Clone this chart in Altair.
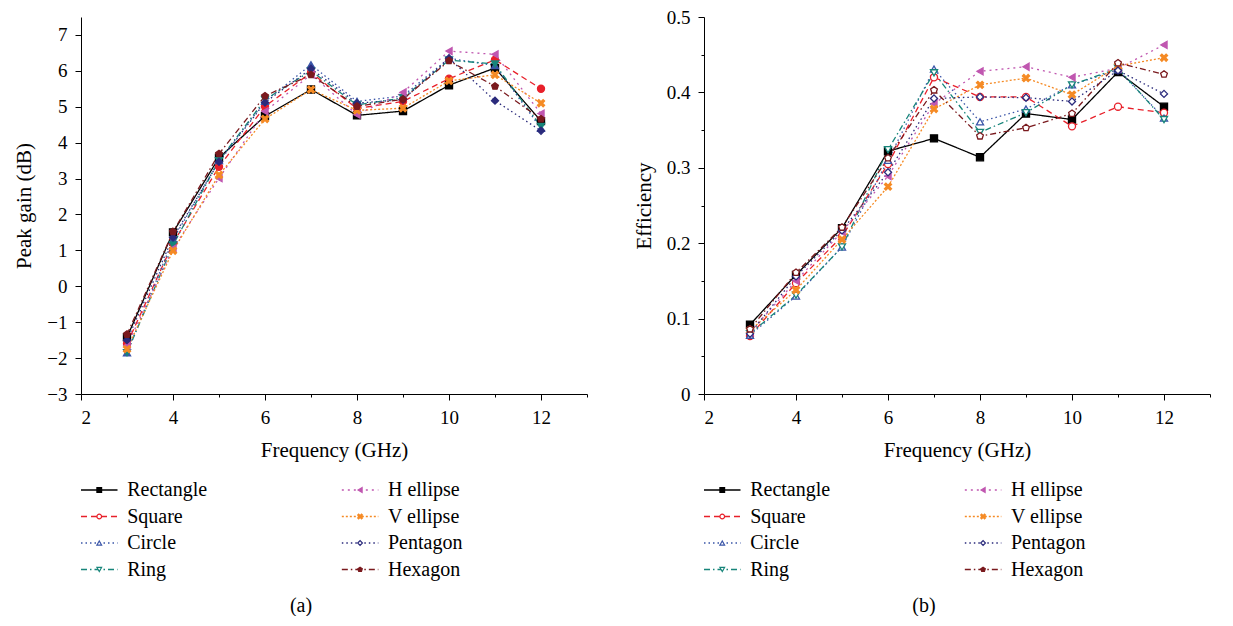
import pandas as pd
import altair as alt

# Datos
frecuencias = [3, 4, 5, 6, 7, 8, 9, 10, 11, 12]
series = ["Rectangle", "Square", "Circle", "Ring", "H ellipse", "V ellipse", "Pentagon", "Hexagon"]

# (a) Peak gain (dB)
gain_rectangle = [-1.42, 1.50, 3.58, 4.74, 5.48, 4.76, 4.88, 5.60, 6.08, 4.60]
gain_square = [-1.60, 1.20, 3.33, 5.01, 5.95, 4.95, 5.15, 5.78, 6.31, 5.50]
gain_circle = [-1.85, 1.30, 3.50, 5.15, 6.17, 5.15, 5.30, 6.35, 6.15, 4.40]
gain_ring = [-1.85, 1.15, 3.50, 5.20, 6.00, 5.05, 5.25, 6.30, 6.19, 4.45]
gain_h_ellipse = [-1.65, 1.05, 3.01, 4.87, 5.90, 4.78, 5.40, 6.55, 6.46, 4.81]
gain_v_ellipse = [-1.75, 0.99, 3.10, 4.66, 5.48, 4.90, 4.96, 5.72, 5.89, 5.10]
gain_pentagon = [-1.50, 1.36, 3.47, 5.12, 6.06, 5.10, 5.20, 6.35, 5.17, 4.33]
gain_hexagon = [-1.34, 1.52, 3.69, 5.30, 5.89, 5.01, 5.21, 6.28, 5.57, 4.66]

# (b) Efficiency
eff_rectangle = [0.092, 0.158, 0.220, 0.322, 0.339, 0.314, 0.372, 0.364, 0.427, 0.381]
eff_square = [0.077, 0.147, 0.209, 0.305, 0.420, 0.394, 0.394, 0.355, 0.381, 0.373]
eff_circle = [0.078, 0.130, 0.195, 0.310, 0.431, 0.361, 0.378, 0.410, 0.430, 0.366]
eff_ring = [0.080, 0.131, 0.195, 0.324, 0.426, 0.347, 0.373, 0.410, 0.432, 0.364]
eff_h_ellipse = [0.082, 0.150, 0.215, 0.289, 0.385, 0.428, 0.434, 0.420, 0.432, 0.463]
eff_v_ellipse = [0.084, 0.138, 0.205, 0.275, 0.378, 0.410, 0.419, 0.397, 0.435, 0.446]
eff_pentagon = [0.080, 0.156, 0.217, 0.294, 0.392, 0.394, 0.393, 0.388, 0.429, 0.398]
eff_hexagon = [0.086, 0.161, 0.221, 0.313, 0.403, 0.342, 0.353, 0.372, 0.439, 0.424]

gain = [gain_rectangle, gain_square, gain_circle, gain_ring,
        gain_h_ellipse, gain_v_ellipse, gain_pentagon, gain_hexagon]
eff = [eff_rectangle, eff_square, eff_circle, eff_ring,
       eff_h_ellipse, eff_v_ellipse, eff_pentagon, eff_hexagon]

# Estilos de cada serie
colores = ["#000000", "#e8202a", "#3a55a8", "#17857a", "#c057b0", "#f58a24", "#2b2b7c", "#7a1a1e"]
trazos = [[1, 0], [6, 4], [1.5, 3], [6, 3, 1.5, 3], [2, 4], [2, 2], [1.5, 3], [6, 3, 1.5, 3]]
forma_x = "M-1,-0.6L-0.4,0L-1,0.6L-0.6,1L0,0.4L0.6,1L1,0.6L0.4,0L1,-0.6L0.6,-1L0,-0.4L-0.6,-1Z"
forma_pent = "M0,-1L0.951,-0.309L0.588,0.809L-0.588,0.809L-0.951,-0.309Z"
formas = ["square", "circle", "triangle-up", "triangle-down", "triangle-left", forma_x, "diamond", forma_pent]
huecos_b = ["Square", "Circle", "Ring", "Pentagon", "Hexagon"]
huecos_leyenda = ["Square", "Circle", "Ring", "Pentagon"]

escala_color = alt.Scale(domain=series, range=colores)
escala_trazo = alt.Scale(domain=series, range=trazos)
escala_forma = alt.Scale(domain=series, range=formas)

FUENTE = "Liberation Serif"


def tabla(valores, huecos):
    filas = []
    for nombre, vals in zip(series, valores):
        color = colores[series.index(nombre)]
        for f, v in zip(frecuencias, vals):
            filas.append({"serie": nombre, "freq": f, "valor": v,
                          "relleno": "white" if nombre in huecos else color})
    return pd.DataFrame(filas)


def grafico(valores, huecos, titulo_y, dominio_y, ticks_y, prueba_y, formato_y):
    df = tabla(valores, huecos)
    x = alt.X("freq:Q", title="Frequency (GHz)",
              scale=alt.Scale(domain=[2, 13], nice=False, zero=False),
              axis=alt.Axis(values=list(range(2, 14)),
                            labelExpr="datum.value % 2 === 0 && datum.value <= 12 ? datum.label : ''",
                            tickSize={"condition": {"test": "datum.value % 2 === 0", "value": 6}, "value": 3}))
    y = alt.Y("valor:Q", title=titulo_y,
              scale=alt.Scale(domain=dominio_y, nice=False, zero=False),
              axis=alt.Axis(values=ticks_y, format=formato_y,
                            labelExpr=f"{prueba_y} ? datum.label : ''",
                            tickSize={"condition": {"test": prueba_y, "value": 6}, "value": 3}))
    lineas = alt.Chart(df).mark_line(strokeWidth=1.3).encode(
        x=x, y=y,
        color=alt.Color("serie:N", scale=escala_color, legend=None),
        strokeDash=alt.StrokeDash("serie:N", scale=escala_trazo, legend=None)
    )
    puntos = alt.Chart(df).mark_point(size=50, opacity=1, strokeWidth=1.3).encode(
        x=x, y=y,
        shape=alt.Shape("serie:N", scale=escala_forma, legend=None),
        stroke=alt.Stroke("serie:N", scale=escala_color, legend=None),
        fill=alt.Fill("relleno:N", scale=None)
    )
    return alt.layer(lineas, puntos).properties(width=506, height=377)


def leyenda(letra):
    df = pd.DataFrame({
        "serie": series,
        "col": [i // 4 for i in range(len(series))],
        "fila": [i % 4 for i in range(len(series))],
        "relleno": ["white" if s in huecos_leyenda else colores[i] for i, s in enumerate(series)],
    })
    base = alt.Chart(df).transform_calculate(
        x1="datum.col + 0.14", xm="datum.col + 0.07", xt="datum.col + 0.177"
    )
    ex = alt.Scale(domain=[0, 1.94], nice=False, zero=False)
    ey = alt.Scale(domain=[-0.5, 3.5], reverse=True, nice=False, zero=False)
    reglas = base.mark_rule(strokeWidth=1.3).encode(
        x=alt.X("col:Q", scale=ex, axis=None), x2="x1:Q",
        y=alt.Y("fila:Q", scale=ey, axis=None),
        color=alt.Color("serie:N", scale=escala_color, legend=None),
        strokeDash=alt.StrokeDash("serie:N", scale=escala_trazo, legend=None)
    )
    marcas = base.mark_point(size=22, opacity=1, strokeWidth=1.2).encode(
        x=alt.X("xm:Q", scale=ex, axis=None),
        y=alt.Y("fila:Q", scale=ey, axis=None),
        shape=alt.Shape("serie:N", scale=escala_forma, legend=None),
        stroke=alt.Stroke("serie:N", scale=escala_color, legend=None),
        fill=alt.Fill("relleno:N", scale=None)
    )
    textos = base.mark_text(align="left", baseline="middle", fontSize=20, font=FUENTE, color="black").encode(
        x=alt.X("xt:Q", scale=ex, axis=None),
        y=alt.Y("fila:Q", scale=ey, axis=None),
        text="serie:N"
    )
    return alt.layer(reglas, marcas, textos).properties(
        width=506, height=106,
        title=alt.TitleParams(letra, orient="bottom", offset=13, dx=-33, fontSize=20,
                              fontWeight="normal", font=FUENTE, color="black")
    )


ticks_a = [-3 + 0.5 * k for k in range(21)]
ticks_b = [round(0.05 * k, 2) for k in range(11)]

panel_a = grafico(gain, [], "Peak gain (dB)", [-3, 7.5], ticks_a,
                  "datum.value % 1 === 0", "d")
panel_b = grafico(eff, huecos_b, "Efficiency", [0, 0.5], ticks_b,
                  "abs(datum.value * 10 - round(datum.value * 10)) < 0.000001", ".1~f")

chart = alt.concat(
    panel_a, panel_b, leyenda("(a)"), leyenda("(b)"),
    columns=2, spacing={"row": 82.75, "column": 117}, bounds="flush"
).properties(
    padding={"left": 5, "top": 0, "right": 5, "bottom": 0}
).configure(
    font=FUENTE
).configure_view(
    stroke=None
).configure_axis(
    grid=False,
    domainColor="black", domainWidth=1,
    tickColor="black", tickWidth=1,
    labelColor="black", labelFont=FUENTE, labelFontSize=19, labelPadding=8,
    titleColor="black", titleFont=FUENTE, titleFontSize=21, titleFontWeight="normal",
    titlePadding=12
)

chart.save("out.html", embed_options={"renderer": "svg", "actions": False})
